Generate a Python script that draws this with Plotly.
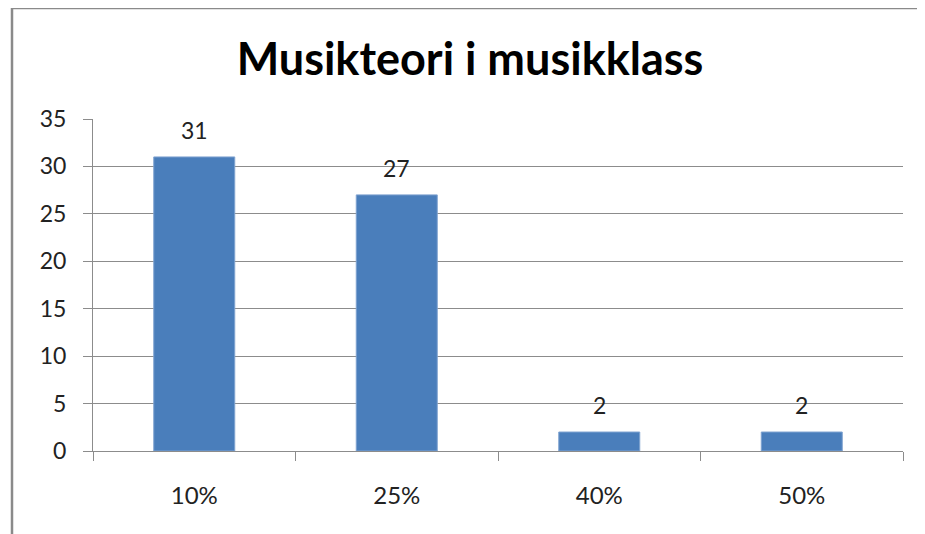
import plotly.graph_objects as go

categories = ["10%", "25%", "40%", "50%"]
values = [31, 27, 2, 2]
y_ticks = [0, 5, 10, 15, 20, 25, 30, 35]
title_text = "Musikteori i musikklass"

# page body has an 8px margin: figure drawn at (8, 8) in the window
OFF = 8
W, H = 925 - OFF, 534 - OFF
L, R, T, B = 93 - OFF, 903 - OFF, 119 - OFF, 451 - OFF
FONT = "Lato"
GRID = "#8c8c8c"
TXT = "#222222"

fig = go.Figure()
fig.add_trace(go.Bar(
    x=categories, y=values,
    marker=dict(color="#4A7EBB", line=dict(color="#7fa3d0", width=1)),
    width=0.4, hoverinfo="x+y",
))

for c, v in zip(categories, values):
    fig.add_annotation(x=c, y=v, text=str(v), showarrow=False,
                       yanchor="middle", yshift=27,
                       font=dict(family=FONT, size=23, color=TXT))

fig.update_layout(
    width=W, height=H,
    margin=dict(l=0, r=0, t=0, b=0, autoexpand=False),
    paper_bgcolor="white", plot_bgcolor="white",
    showlegend=False,
    font=dict(family=FONT, color=TXT),
    title=dict(text="<b>" + title_text + "</b>", x=(470 - OFF) / W, xanchor="center",
               y=1 - (59 - OFF) / H, yanchor="middle",
               font=dict(family=FONT, size=45, color="black")),
    xaxis=dict(domain=[L / W, R / W], type="category", automargin=False,
               showgrid=False, showline=True, linecolor=GRID, linewidth=1,
               ticks="outside", tickson="boundaries", ticklen=9,
               tickcolor=GRID, tickfont=dict(family=FONT, size=24, color=TXT),
               ticklabelstandoff=23),
    yaxis=dict(domain=[(H - B) / H, (H - T) / H], range=[0, 35], automargin=False,
               tickvals=y_ticks, showgrid=True, gridcolor=GRID, gridwidth=1,
               showline=True, linecolor=GRID, linewidth=1,
               ticks="outside", ticklen=9, tickcolor=GRID,
               tickfont=dict(family=FONT, size=23, color=TXT),
               zeroline=False, ticklabelstandoff=12),
    shapes=[dict(type="path", xref="paper", yref="paper",
                 path=f"M {(12-OFF)/W},0 L {(12-OFF)/W},1 L 1,1",
                 line=dict(color="#8a8a8a", width=2.5))],
)

fig.write_html("out.html")
